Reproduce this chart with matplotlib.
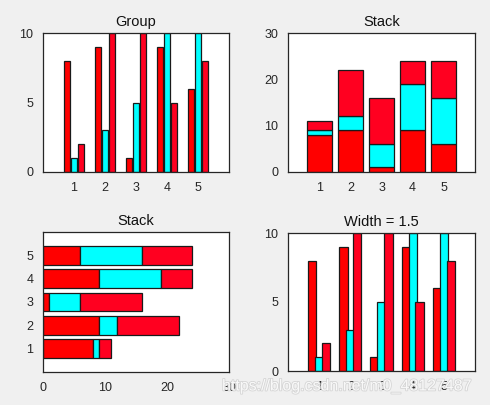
import matplotlib.pyplot as plt
import matplotlib.patheffects as pe
import numpy as np

plt.rcParams['font.family'] = ['Liberation Sans', 'DejaVu Sans']

# data
groups = [1, 2, 3, 4, 5]
s1 = [8, 9, 1, 9, 6]
s2 = [1, 3, 5, 10, 10]
s3 = [2, 10, 10, 5, 8]
series = [s1, s2, s3]
colors = ['#ff0000', '#00ffff', '#ff0020']

edge = '#1a1a1a'
txt = '#262626'

fig = plt.figure(figsize=(4.9, 4.05), dpi=100)
fig.patch.set_facecolor('#f0f0f0')

W, H = 490.0, 405.0
def make_ax(x0, y_top, w, h):
    return fig.add_axes([x0 / W, (H - y_top - h) / H, w / W, h / H])

def style(ax, title):
    ax.set_title(title, fontsize=10.5, color='#111111', pad=5)
    ax.tick_params(length=0, labelsize=9, colors=txt, pad=7)
    for s in ax.spines.values():
        s.set_color(txt)
        s.set_linewidth(0.9)

x = np.array(groups, dtype=float)
offsets = [-0.222, 0.0, 0.222]

def grouped(ax, width):
    for vals, off, c in zip(series, offsets, colors):
        ax.bar(x + off, vals, width=0.178 * width, color=c, edgecolor=edge, linewidth=0.9)
    ax.set_xlim(0, 6)
    ax.set_ylim(0, 10)
    ax.set_xticks(groups)
    ax.set_yticks([0, 5, 10])

# Group
ax1 = make_ax(43, 33, 186, 139)
grouped(ax1, 1.0)
style(ax1, 'Group')

# Stack (vertical)
ax2 = make_ax(288, 33, 187, 139)
bottom = np.zeros(len(groups))
for vals, c in zip(series, colors):
    ax2.bar(x, vals, width=0.8, bottom=bottom, color=c, edgecolor=edge, linewidth=0.9)
    bottom += np.array(vals)
ax2.set_xlim(0, 6)
ax2.set_ylim(0, 30)
ax2.set_xticks(groups)
ax2.set_yticks([0, 10, 20, 30])
style(ax2, 'Stack')

# Stack (horizontal)
ax3 = make_ax(43, 232, 186, 140)
left = np.zeros(len(groups))
for vals, c in zip(series, colors):
    ax3.barh(x, vals, height=0.8, left=left, color=c, edgecolor=edge, linewidth=0.9)
    left += np.array(vals)
ax3.set_ylim(0, 6)
ax3.set_xlim(0, 30)
ax3.set_yticks(groups)
ax3.set_xticks([0, 10, 20, 30])
style(ax3, 'Stack')

# Width = 1.5
ax4 = make_ax(288, 233, 187, 138)
grouped(ax4, 1.5)
style(ax4, 'Width = 1.5')

# watermark
fig.text(222 / W, 1 - 386 / H, 'https://blog.csdn.net/m0_48127487', fontsize=11.5,
         color='white', alpha=0.85, va='center', ha='left',
         path_effects=[pe.withStroke(linewidth=1.2, foreground='#d0d0d0')])

fig.savefig('out.png', dpi=100, facecolor=fig.get_facecolor())
